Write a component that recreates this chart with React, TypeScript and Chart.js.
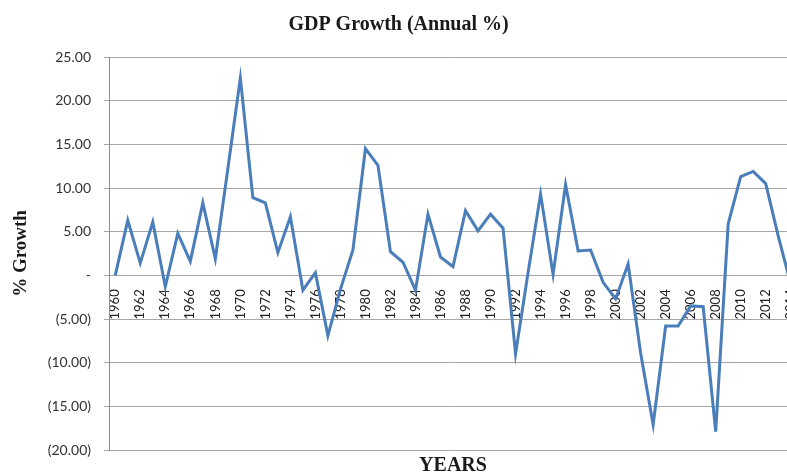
import React, { useRef, useEffect } from 'react';
import { Chart, registerables } from 'chart.js';

Chart.register(...registerables);

// Years on the category axis (one point per year)
const YEARS = [
    '1960', '1961', '1962', '1963', '1964', '1965', '1966', '1967', '1968', '1969',
    '1970', '1971', '1972', '1973', '1974', '1975', '1976', '1977', '1978', '1979',
    '1980', '1981', '1982', '1983', '1984', '1985', '1986', '1987', '1988', '1989',
    '1990', '1991', '1992', '1993', '1994', '1995', '1996', '1997', '1998', '1999',
    '2000', '2001', '2002', '2003', '2004', '2005', '2006', '2007', '2008', '2009',
    '2010', '2011', '2012', '2013', '2014'
];

// Annual GDP growth in %
const GROWTH = [
    0.0, 6.3, 1.4, 6.1, -1.3, 4.8, 1.6, 8.3, 1.9, 12.2,
    22.6, 8.9, 8.3, 2.6, 6.7, -1.7, 0.3, -6.9, -1.6, 2.9,
    14.5, 12.6, 2.7, 1.5, -1.7, 7.0, 2.1, 1.0, 7.4, 5.1,
    7.0, 5.4, -9.0, 0.3, 9.3, 0.1, 10.4, 2.8, 2.9, -0.8,
    -2.7, 1.3, -8.9, -17.1, -5.8, -5.8, -3.5, -3.6, -17.9, 5.9,
    11.3, 11.9, 10.5, 4.5, -1.0
];

const Y_MIN = -20;
const Y_MAX = 25;
const Y_STEP = 5;

// accounting style: 5.00, -, (5.00)
const formatGrowth = (v: number) => {
    if (v === 0) return '-';
    if (v < 0) return `(${Math.abs(v).toFixed(2)})`;
    return v.toFixed(2);
};

const SERIF = '"Liberation Serif", "Times New Roman", serif';
const SANS = 'Lato, "Open Sans", sans-serif';

export default function App() {
    const canvasRef = useRef<HTMLCanvasElement>(null);

    useEffect(() => {
        const ctx = canvasRef.current?.getContext('2d');
        if (!ctx) return;

        const chart = new Chart(ctx, {
            type: 'line',
            data: {
                labels: YEARS,
                datasets: [
                    {
                        label: 'GDP Growth',
                        data: GROWTH,
                        borderColor: '#4a7ebb',
                        backgroundColor: '#4a7ebb',
                        borderWidth: 3,
                        pointRadius: 0,
                        tension: 0,
                        fill: false,
                    },
                ],
            },
            options: {
                animation: false,
                responsive: true,
                maintainAspectRatio: false,
                layout: { padding: { left: 0, right: 3, top: 0, bottom: 0 } },
                plugins: {
                    legend: { display: false },
                    tooltip: { enabled: false },
                    title: {
                        display: true,
                        text: 'GDP Growth (Annual %)',
                        color: '#1a1a1a',
                        font: { family: SERIF, size: 20, weight: 'bold', lineHeight: 1.2 },
                        padding: { top: 13, bottom: 20 },
                    },
                    subtitle: {
                        display: true,
                        position: 'bottom',
                        fullSize: false,
                        text: 'YEARS',
                        color: '#1a1a1a',
                        font: { family: SERIF, size: 20, weight: 'bold', lineHeight: 0.9 },
                        padding: { top: 7, bottom: 0 },
                    },
                },
                scales: {
                    x: {
                        type: 'category',
                        position: { y: 0 },
                        offset: true,
                        afterFit: (scale) => {
                            // the last rotated label may run past the plot, as in the original
                            scale.paddingLeft = 0;
                            scale.paddingRight = 0;
                        },
                        grid: { display: false },
                        border: { display: false },
                        ticks: {
                            autoSkip: false,
                            minRotation: 90,
                            maxRotation: 90,
                            padding: 6,
                            color: '#222',
                            font: { family: SANS, size: 13 },
                            callback: function (value, index) {
                                return index % 2 === 0 ? YEARS[index] : '';
                            },
                        },
                    },
                    y: {
                        min: Y_MIN,
                        max: Y_MAX,
                        afterFit: (scale) => {
                            scale.width = 109;
                        },
                        ticks: {
                            stepSize: Y_STEP,
                            padding: 13,
                            color: '#333',
                            font: { family: SANS, size: 14 },
                            callback: (value) => formatGrowth(Number(value)),
                        },
                        grid: {
                            color: '#a6a6a6',
                            lineWidth: 1,
                            tickLength: 5,
                        },
                        border: { display: true, color: '#8c8c8c' },
                        title: {
                            display: true,
                            text: '% Growth',
                            color: '#1a1a1a',
                            font: { family: SERIF, size: 19, weight: 'bold', lineHeight: 1.2 },
                            padding: { top: 10, bottom: 0 },
                        },
                    },
                },
            },
        });

        return () => {
            chart.destroy();
        };
    }, []);

    return (
        <div style={{ position: 'fixed', left: 0, top: 0, width: 787, height: 475, overflow: 'hidden', background: '#fff' }}>
            <div style={{ position: 'relative', width: 800, height: 475 }}>
                <canvas ref={canvasRef}></canvas>
            </div>
        </div>
    );
}
